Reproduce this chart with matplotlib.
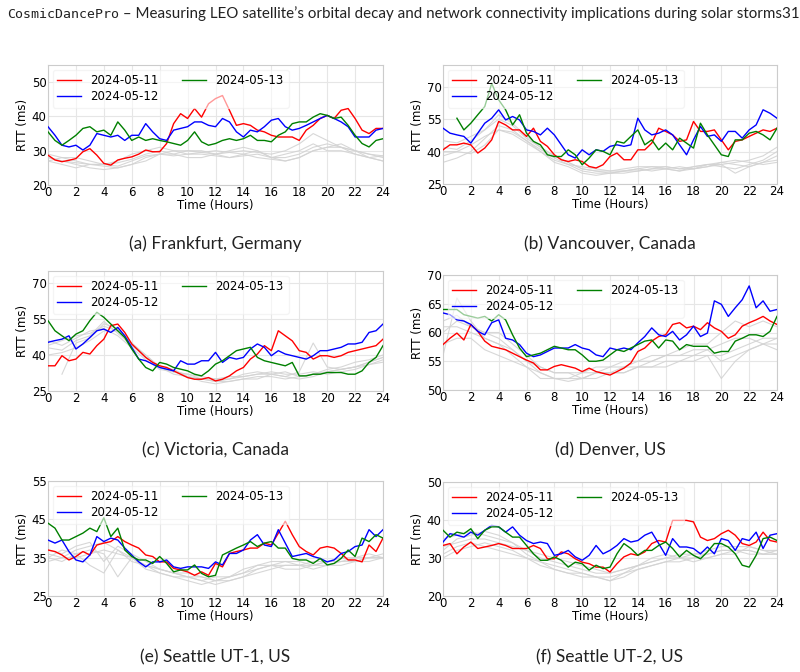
import numpy as np
import matplotlib
matplotlib.use('Agg')
import matplotlib.pyplot as plt
from matplotlib.text import Annotation

# time axes: coloured days sampled every 30 min, grey (other days) every hour
hours = np.arange(49) * 0.5
hours_gray = np.arange(25)

days = ['2024-05-11', '2024-05-12', '2024-05-13']
day_colors = ['red', 'blue', 'green']

captions = ['(a) Frankfurt, Germany', '(b) Vancouver, Canada', '(c) Victoria, Canada',
            '(d) Denver, US', '(e) Seattle UT-1, US', '(f) Seattle UT-2, US']
ylims = [(20, 55), (25, 80), (25, 75), (50, 70), (25, 55), (20, 50)]
yticks = [[20, 30, 40, 50], [25, 40, 55, 70], [25, 40, 55, 70],
          [50, 55, 60, 65, 70], [25, 35, 45, 55], [20, 30, 40, 50]]

nan = np.nan

# (a) Frankfurt
frankfurt_0511 = [28.7, 27.3, 26.8, 27.2, 27.7, 29.7, 30.6, 28.7, 26.3, 25.8, 27.3, 27.8, 28.2, 29.0, 30.2, 29.7,
                  29.7, 32.1, 37.9, 40.8, 39.4, 42.3, 39.8, 43.7, 45.2, 46.1, 41.8, 37.4, 37.9, 37.4, 36.0, 35.5,
                  34.5, 34.0, 34.0, 34.0, 33.0, 36.0, 37.4, 39.4, 40.3, 39.4, 41.8, 42.3, 39.4, 36.0, 35.0, 36.5, 36.5]
frankfurt_0512 = [37.0, 34.5, 31.6, 31.1, 31.6, 30.2, 31.6, 35.0, 34.5, 34.0, 34.5, 33.0, 34.5, 34.5, 37.9, 35.5,
                  33.5, 33.0, 36.0, 36.5, 37.0, 38.4, 38.4, 37.4, 37.0, 39.4, 38.4, 35.5, 34.0, 36.0, 35.5, 37.0,
                  38.9, 39.4, 37.0, 36.0, 36.5, 37.4, 38.4, 39.4, 40.3, 39.4, 38.4, 37.0, 34.0, 34.0, 34.0, 36.0, 36.5]
frankfurt_0513 = [35.5, 33.0, 31.6, 33.0, 34.5, 36.5, 37.0, 35.5, 36.0, 34.5, 38.4, 36.0, 33.0, 34.0, 33.0, 33.5,
                  33.0, 32.6, 32.1, 31.6, 33.0, 35.5, 32.6, 31.6, 32.1, 33.0, 33.5, 33.0, 33.5, 34.5, 33.0, 33.0,
                  32.6, 34.5, 35.5, 37.9, 38.4, 38.4, 39.8, 40.8, 40.3, 39.4, 39.8, 37.4, 34.5, 32.1, 31.1, 33.0, 33.5]
frankfurt_gray = [
    [28, 27, 26.5, 26, 25.5, 25, 26, 27, 29, 30, 30, 29.5, 30, 29.5, 29, 28, 27.5, 27, 28, 30, 31, 31, 30, 29, 28],
    [27, 28, 27, 26, 26, 25.5, 27, 28.5, 29, 28.5, 29, 29.5, 29, 29.5, 30, 29.5, 29, 30, 32, 35, 33, 31, 30, 29, 28.5],
    [29, 28, 28, 27, 26, 27, 29, 30, 31, 30, 29, 29, 28.5, 28, 28.5, 29, 28, 27, 28, 30, 31, 32, 30, 28, 27],
    [28, 27, 26, 25, 24.5, 25, 26, 28, 29, 29, 30, 30, 29, 28, 29, 30, 28, 28, 29, 31, 32, 31, 29, 28, 27],
    [27, 26, 25, 26, 26, 26.5, 27.5, 29, 30, 29, 28, 28, 29, 30, 31, 30, 28, 29, 30, 32, 30, 30, 29, 28, 28.5],
]

# (b) Vancouver
vancouver_0511 = [40.8, 43.1, 43.1, 43.9, 43.1, 39.3, 41.6, 45.4, 53.9, 52.3, 50.0, 50.0, 47.0, 50.8, 44.7, 42.4,
                  38.5, 36.2, 35.4, 36.2, 35.4, 33.1, 32.4, 33.9, 37.7, 39.3, 36.2, 36.2, 40.8, 40.8, 43.9, 50.8,
                  49.3, 47.7, 44.7, 45.4, 53.9, 49.3, 49.3, 50.0, 45.4, 40.8, 44.7, 45.4, 47.0, 48.5, 50.0, 49.3, 50.8]
vancouver_0512 = [50.8, 48.5, 47.7, 47.0, 43.9, 48.5, 53.1, 55.4, 59.3, 54.6, 56.2, 54.6, 50.0, 49.3, 47.7, 50.8,
                  47.7, 43.1, 38.5, 37.0, 40.8, 38.5, 40.8, 40.1, 42.4, 43.1, 42.4, 43.1, 55.4, 50.0, 47.7, 48.5,
                  50.0, 47.7, 43.1, 38.5, 45.4, 51.6, 47.0, 47.7, 44.7, 49.3, 49.3, 46.2, 50.0, 52.3, 59.3, 57.7, 55.4]
vancouver_0513 = [nan, nan, 55.4, 50.0, 53.1, 57.0, 60.8, 71.5, 63.9, 59.3, 52.3, 57.0, 48.5, 44.7, 43.1, 38.5,
                  37.7, 37.7, 40.8, 38.5, 33.9, 37.0, 40.8, 40.1, 38.5, 44.7, 43.9, 47.0, 50.0, 43.1, 45.4, 40.8,
                  43.9, 40.8, 46.2, 43.9, 41.6, 53.1, 47.7, 43.1, 38.5, 37.7, 45.4, 45.4, 48.5, 49.3, 47.7, 45.4, 50.8]
vancouver_gray = [
    [45, 44, 47, 50, 55, 52, 46, 42, 38, 35, 32, 31, 30, 30, 31, 32, 32, 31, 32, 33, 34, 35, 36, 38, 42],
    [40, 40, 39, 43, 50, 48, 44, 40, 36, 34, 33, 32, 31, 31, 32, 33, 33, 32, 33, 34, 33, 32, 34, 36, 40],
    [35, 37, 40, 46, 52, 50, 45, 41, 37, 34, 31, 30, 30, 31, 32, 31, 32, 33, 32, 33, 35, 34, 33, 35, 36],
    [42, 41, 45, 50, 57, 53, 47, 42, 38, 35, 32, 31, 31, 32, 33, 33, 32, 31, 33, 34, 34, 30, 33, 35, 38],
    [38, 40, 43, 47, 50, 49, 45, 40, 35, 33, 30, 29, 30, 31, 31, 32, 33, 32, 32, 34, 35, 36, 35, 34, 35],
]

# (c) Victoria
victoria_0511 = [35.5, 35.5, 39.7, 37.6, 38.3, 41.1, 40.4, 43.9, 46.6, 52.2, 52.9, 49.4, 44.6, 41.8, 39.0, 36.9,
                 35.5, 34.8, 33.4, 32.0, 30.6, 29.9, 29.9, 30.6, 29.2, 29.9, 31.3, 33.4, 34.8, 38.3, 40.4, 43.9,
                 41.8, 50.1, 48.0, 45.9, 41.8, 41.1, 38.3, 39.7, 39.7, 39.0, 39.7, 41.1, 41.8, 42.5, 43.2, 43.9, 46.6]
victoria_0512 = [45.3, 46.0, 46.6, 48.0, 42.5, 44.6, 47.3, 50.1, 50.8, 49.4, 51.5, 48.0, 43.2, 38.3, 37.6, 36.2,
                 34.8, 34.1, 33.4, 37.6, 36.2, 36.2, 37.6, 37.6, 41.1, 36.9, 39.0, 38.3, 39.0, 42.5, 44.6, 43.2,
                 39.7, 41.8, 40.4, 39.7, 39.0, 38.3, 39.7, 41.8, 41.8, 42.5, 43.2, 44.6, 44.6, 45.3, 49.4, 50.1, 52.9]
victoria_0513 = [54.3, 50.1, 48.0, 46.0, 48.7, 50.1, 54.3, 57.8, 55.7, 52.9, 50.1, 47.3, 42.5, 38.3, 34.8, 33.4,
                 36.9, 36.2, 34.8, 34.1, 33.4, 32.0, 31.3, 33.4, 36.2, 37.6, 39.7, 41.8, 42.5, 43.2, 39.0, 37.6,
                 36.9, 36.2, 35.5, 36.9, 31.3, 31.3, 32.0, 32.0, 32.7, 32.7, 32.7, 32.0, 32.0, 33.4, 36.9, 39.0, 43.9]
victoria_gray = [
    [44, 46, 48, 49, 52, 50, 45, 39, 35, 33, 31, 30, 29, 30, 31, 32, 32, 31, 30, 31, 33, 34, 35, 37, 39],
    [40, 41, 43, 46, 50, 50, 44, 39, 35, 33, 32, 30, 29, 29, 30, 31, 31, 30, 31, 32, 33, 34, 35, 36, 38],
    [nan, 32, 45, 47, 53, 51, 45, 40, 35, 34, 31, 29, 28, 29, 30, 30, 32, 33, 31, 32, 34, 35, 37, 38, 40],
    [46, 44, 47, 50, 51, 48, 43, 38, 34, 33, 32, 31, 30, 31, 31, 32, 33, 32, 32, 33, 32, 33, 34, 36, 37],
    [43, 42, 46, 48, 54, 49, 44, 40, 35, 32, 31, 30, 30, 30, 32, 33, 32, 31, 33, 45, 35, 34, 35, 37, 39],
]

# (d) Denver
denver_0511 = [57.9, 59.0, 59.9, 58.7, 61.4, 60.2, 58.5, 57.6, 57.3, 57.0, 56.4, 55.8, 55.2, 54.7, 53.5, 53.5,
               54.1, 54.4, 54.1, 53.8, 53.2, 53.8, 53.2, 52.9, 52.6, 53.2, 53.8, 54.7, 56.7, 57.3, 58.5, 59.3,
               59.6, 61.4, 61.7, 60.8, 61.1, 60.5, 61.7, 60.8, 60.2, 59.0, 59.6, 61.1, 61.7, 62.2, 62.8, 62.0, 61.4]
denver_0512 = [63.4, 63.1, 62.2, 62.0, 61.4, 60.2, 59.6, 61.7, 62.2, 59.0, 58.7, 57.9, 56.4, 55.8, 56.1, 56.7,
               57.3, 57.3, 57.3, 57.9, 57.3, 57.0, 56.1, 55.8, 57.3, 57.0, 57.3, 57.0, 58.2, 59.3, 60.8, 59.6,
               59.3, 60.2, 58.7, 59.6, 61.1, 59.3, 59.9, 65.5, 64.9, 62.8, 64.3, 65.7, 68.1, 64.3, 65.5, 63.7, 64.0]
denver_0513 = [64.0, 64.0, 64.0, 63.1, 62.8, 62.5, 62.8, 62.0, 63.1, 62.2, 59.6, 57.3, 55.8, 56.1, 56.4, 57.0,
               57.6, 57.3, 57.0, 57.0, 56.1, 55.0, 55.0, 55.2, 56.1, 57.0, 56.7, 57.3, 57.9, 58.5, 58.7, 57.3,
               58.7, 58.5, 57.0, 57.9, 57.6, 57.6, 57.6, 56.4, 56.7, 56.7, 58.5, 59.0, 59.6, 59.6, 59.3, 60.2, 62.8]
denver_gray = [
    [60, 62, 61, 60, 59, 57, 55, 53, 52, 52, 52, 53, 53, 53, 54, 54, 55, 55, 56, 56, 56, 57, 58, 59, 59],
    [56, 66, 62, 59, 58, 56, 54, 53, 52, 51.5, 52, 52, 53, 54, 54, 55, 56, 56, 57, 57, 55, 56, 57, 58, 58],
    [62, 63, 61, 60, 60, 58, 56, 54, 53, 53, 53, 54, 54, 55, 55, 56, 56, 57, 58, 58, 60, 62, 61, 62, 61],
    [58, 59, 59, 57, 56, 55, 54, 52, 52, 52, 53, 53, 53, 53, 54, 54, 54, 55, 55, 56, 52, 55, 57, 58, 57],
    [61, 61, 60, 59, 58, 57, 55, 54, 53, 53, 52, 53, 54, 54, 55, 55, 56, 56, 56, 57, 58, 59, 59, 58, 59],
]

# (e) Seattle UT-1
seattle1_0511 = [37.0, 36.6, 35.7, 34.4, 35.3, 36.6, 35.7, 38.3, 38.8, 39.2, 40.5, 39.2, 38.3, 37.5, 35.7, 35.3,
                 33.9, 33.9, 32.2, 31.8, 31.3, 30.4, 31.3, 30.4, 33.5, 32.6, 36.1, 36.6, 37.0, 37.5, 37.5, 38.8,
                 38.3, 41.4, 44.5, 41.0, 37.9, 36.6, 35.7, 37.5, 37.9, 37.5, 36.1, 34.4, 34.4, 33.9, 38.3, 36.6, 40.1]
seattle1_0512 = [39.6, 38.8, 39.6, 36.6, 34.4, 33.9, 35.7, 40.5, 39.2, 40.1, 39.6, 37.5, 35.7, 33.9, 32.6, 33.9,
                 33.9, 34.4, 32.6, 32.2, 32.6, 32.6, 32.6, 32.2, 33.9, 33.1, 36.1, 36.1, 37.0, 39.6, 41.0, 38.3,
                 37.9, 42.3, 38.8, 35.3, 35.7, 36.1, 35.3, 34.8, 33.9, 34.4, 36.1, 36.6, 37.9, 38.3, 42.3, 40.5, 42.3]
seattle1_0513 = [44.0, 42.7, 39.6, 39.6, 40.5, 41.4, 42.7, 41.8, 45.4, 40.5, 42.7, 37.0, 35.3, 34.4, 34.4, 33.5,
                 35.3, 33.5, 31.3, 31.8, 31.8, 33.1, 30.9, 30.0, 30.4, 35.7, 36.6, 37.5, 38.3, 39.2, 37.9, 38.8,
                 39.2, 37.5, 37.5, 34.8, 34.4, 34.4, 33.5, 34.8, 33.1, 33.5, 34.8, 37.0, 35.3, 40.1, 39.2, 41.0, 40.1]
seattle1_gray = [
    [36, 35, 37, 38, 39, 37, 34, 33, 32, 31, 30, 30, 29, 30, 31, 32, 33, 33, 33, 34, 34, 34, 35, 36, 35],
    [35, 34, 36, 37, 36, 30, 35, 33, 31, 30, 30, 29, 28, 29, 30, 31, 32, 33, 33, 33, 34, 35, 35, 35, 36],
    [37, 36, 38, 39, 34, 38, 36, 34, 32, 31, 31, 30, 29, 29, 30, 32, 33, 34, 34, 33, 33, 34, 34, 35, 35],
    [34, 35, 35, 36, 37, 36, 35, 33, 32, 31, 30, 29, 30, 30, 31, 33, 34, 34, 33, 32, 33, 33, 34, 35, 35],
    [35, 37, 36, 33, 31, 37, 35, 32, 31, 30, 29, 28, 29, 30, 32, 33, 33, 32, 32, 33, 34, 35, 34, 34, 35],
]

# (f) Seattle UT-2
seattle2_0511 = [33.3, 33.8, 31.1, 32.9, 34.2, 32.5, 32.9, 33.3, 33.8, 33.3, 32.5, 32.5, 32.5, 33.3, 32.5, 29.8,
                 29.8, 31.6, 31.1, 29.8, 28.9, 28.5, 27.6, 27.6, 26.3, 28.5, 30.3, 31.1, 30.7, 31.6, 33.8, 34.6,
                 34.2, 39.9, 39.9, 39.9, 39.5, 35.5, 34.6, 35.1, 36.4, 37.3, 36.0, 33.8, 33.3, 34.2, 36.8, 34.6, 34.2]
seattle2_0512 = [34.2, 36.4, 36.0, 35.5, 36.8, 36.0, 37.3, 38.6, 38.2, 36.8, 38.2, 36.0, 34.6, 33.8, 34.2, 33.8,
                 30.7, 31.1, 32.0, 30.3, 29.4, 30.7, 33.3, 31.1, 32.0, 33.3, 35.1, 34.2, 34.6, 36.0, 36.8, 33.8,
                 30.7, 35.1, 32.9, 32.9, 32.5, 31.1, 32.9, 31.1, 35.1, 34.6, 32.0, 35.1, 34.6, 36.8, 32.5, 36.0, 36.4]
seattle2_0513 = [37.3, 35.5, 36.8, 36.4, 37.7, 35.1, 37.3, 38.2, 38.2, 36.8, 35.5, 35.5, 33.3, 31.1, 29.4, 29.4,
                 30.3, 29.4, 27.6, 28.9, 28.5, 26.8, 28.1, 27.2, 27.6, 31.1, 33.8, 32.5, 30.7, 32.0, 32.0, 33.3,
                 34.2, 32.5, 30.3, 32.0, 30.7, 29.8, 31.6, 33.8, 33.8, 32.9, 31.1, 28.1, 27.6, 30.7, 35.1, 35.5, 34.6]
seattle2_gray = [
    [33, 34, 35, 35, 34, 33, 32, 30, 29, 28, 27, 26, 26, 27, 28, 29, 30, 30, 31, 31, 32, 32, 32, 31, 31],
    [30, 32, 33, 34, 33, 32, 30, 29, 27, 26, 25, 25, 24, 25, 27, 28, 29, 30, 30, 31, 32, 32, 31, 31, 32],
    [35, 36, 37, 36, 35, 34, 32, 31, 30, 29, 28, 27, 26, 27, 28, 29, 30, 31, 31, 32, 33, 33, 33, 32, 31],
    [31, 33, 34, 33, 32, 31, 30, 28, 27, 26, 26, 25, 24, 26, 27, 28, 29, 29, 30, 30, 31, 32, 32, 31, 31],
    [32, 35, 36, 37, 36, 34, 31, 29, 28, 27, 26, 25, 25, 26, 28, 30, 31, 30, 29, 30, 31, 31, 33, 32, 32],
]

panels = [
    (frankfurt_0511, frankfurt_0512, frankfurt_0513, frankfurt_gray),
    (vancouver_0511, vancouver_0512, vancouver_0513, vancouver_gray),
    (victoria_0511, victoria_0512, victoria_0513, victoria_gray),
    (denver_0511, denver_0512, denver_0513, denver_gray),
    (seattle1_0511, seattle1_0512, seattle1_0513, seattle1_gray),
    (seattle2_0511, seattle2_0512, seattle2_0513, seattle2_gray),
]

# axes boxes in pixels (left, top, right, bottom) of the 800x672 canvas
W, H = 800, 672
boxes = [(48, 65, 383, 185), (443, 65, 777, 184),
         (48, 271, 383, 391), (443, 275, 777, 390),
         (48, 481, 383, 596), (443, 482, 777, 596)]
caption_y = [244, 244, 450, 450, 657, 657]
caption_font = 'Lato'

fig = plt.figure(figsize=(8, 6.72), dpi=100)

for i, (s11, s12, s13, grays) in enumerate(panels):
    l, t, r, b = boxes[i]
    ax = fig.add_axes([l / W, 1 - b / H, (r - l) / W, (b - t) / H])
    for g in grays:
        ax.plot(hours_gray, g, color='#d3d3d3', lw=0.8, alpha=0.9, zorder=1)
    for series, lab, col in zip([s11, s12, s13], days, day_colors):
        ax.plot(hours, series, color=col, lw=1.0, label=lab, zorder=3)
    ax.set_xlim(0, 24)
    ax.set_ylim(*ylims[i])
    ax.set_xticks(range(0, 25, 2))
    ax.set_yticks(yticks[i])
    ax.tick_params(labelsize=8.5, length=0, pad=1)
    ax.grid(True, color='#e6e6e6', lw=0.8)
    ax.set_axisbelow(True)
    for sp in ax.spines.values():
        sp.set_color('#cccccc')
    ax.set_xlabel('Time (Hours)', fontsize=8.5, labelpad=0)
    ax.set_ylabel('RTT (ms)', fontsize=8.5, labelpad=2)
    ax.legend(loc='upper left', ncol=2, fontsize=8.5, handlelength=2.0,
              columnspacing=2.0, framealpha=0.6, edgecolor='#eeeeee',
              borderaxespad=0.4, labelspacing=0.2)
    cx = (l + r) / 2 / W
    fig.text(cx, 1 - caption_y[i] / H, captions[i], ha='center', va='center',
             fontsize=12.5, family=caption_font, color='#222222')

t1 = fig.text(7 / W, 1 - 14 / H, 'CosmicDancePro', family='DejaVu Sans Mono',
              fontsize=9.5, va='center', ha='left', color='#222222')
fig.add_artist(Annotation(' \u2013 Measuring LEO satellite\u2019s orbital decay and network connectivity '
                          'implications during solar storms31',
                          xy=(1, 0.5), xycoords=t1, va='center', ha='left',
                          fontsize=10.9, family=caption_font, color='#222222'))

fig.savefig('out.png', dpi=100)
